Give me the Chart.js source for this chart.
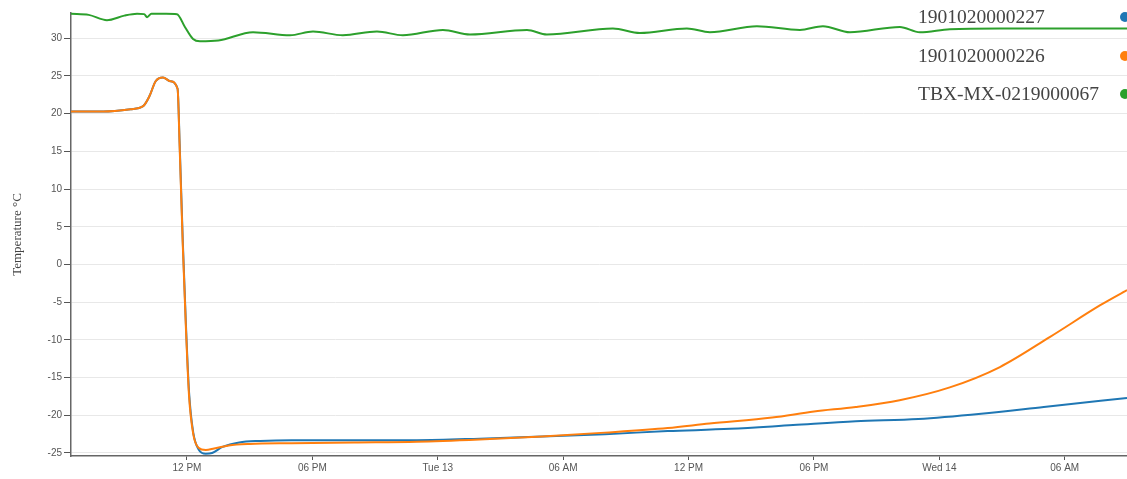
<!DOCTYPE html>
<html>
<head>
<meta charset="utf-8">
<script src="https://cdn.jsdelivr.net/npm/chart.js@4.4.0/dist/chart.umd.min.js"></script>
<style>
  html, body { margin: 0; padding: 0; background: #fff; overflow: hidden; }
  .chart-wrap { position: relative; width: 1127px; height: 479px; }
  .graph-legend { position: absolute; left: 918px; top: 3px; margin: 0; padding: 0; list-style: none; }
  .graph-legend li { position: relative; height: 38.5px; width: 209px; font-family: "Liberation Serif", "DejaVu Serif", serif; font-size: 19.5px; color: #444; line-height: 28px; }
  .graph-legend__swatch { position: absolute; left: 202px; top: 9px; width: 10px; height: 10px; border-radius: 50%; }
</style>
</head>
<body>
<div class="chart-wrap">
  <canvas id="myChart" width="1127" height="479"></canvas>
  <ul class="graph-legend" id="chartLegend"></ul>
</div>
<script>
  // hours counted from Mon 12, 00:00
  let seriesNames = ["1901020000227", "1901020000226", "TBX-MX-0219000067"];
  let seriesColors = ["#1f77b4", "#ff7f0e", "#2ca02c"];

  let blueHours = [6.45, 8.0, 9.3, 9.9, 10.2, 10.5, 10.85, 11.2, 11.55, 11.65, 11.8, 11.95, 12.1, 12.3, 12.55, 12.9, 13.2, 13.7, 14.5, 15.5, 17, 20, 23, 26, 29, 32, 35, 38, 41, 44, 47, 50, 53, 56.98];
  let blueTemps = [20.3, 20.3, 20.6, 21.0, 22.3, 24.3, 24.8, 24.3, 23.3, 16, 3, -8, -17, -22.3, -24.5, -25.1, -25.0, -24.2, -23.6, -23.4, -23.3, -23.3, -23.3, -23.1, -22.8, -22.5, -22.1, -21.8, -21.3, -20.8, -20.5, -19.8, -18.9, -17.7];

  let orangeHours = [6.45, 8.0, 9.3, 9.9, 10.2, 10.5, 10.85, 11.2, 11.55, 11.65, 11.8, 11.95, 12.1, 12.3, 12.55, 12.9, 13.3, 14, 15, 17, 20, 23, 26, 29, 32, 35, 37, 40, 42, 44, 46.1, 48.5, 50.9, 53.3, 55.7, 56.98];
  let orangeTemps = [20.3, 20.3, 20.6, 21.0, 22.3, 24.3, 24.8, 24.3, 23.3, 15.5, 2.5, -8.5, -17.5, -22.5, -24.3, -24.6, -24.4, -24.0, -23.8, -23.7, -23.6, -23.5, -23.2, -22.8, -22.3, -21.7, -21.1, -20.3, -19.5, -18.9, -18.0, -16.3, -13.6, -9.6, -5.4, -3.4];

  let greenHours = [6.45, 7.3, 8.17, 9.0, 9.61, 9.95, 10.09, 10.3, 11.0, 11.52, 11.9, 12.29, 12.62, 13.5, 15.16, 16.93, 18.03, 19.46, 21.09, 22.33, 24.25, 25.54, 28.27, 29.22, 32.38, 33.67, 35.92, 37.02, 39.27, 41.33, 42.43, 43.72, 46.11, 47.07, 48.5, 50.9, 54, 57];
  let greenTemps = [33.25, 33.1, 32.4, 33.0, 33.25, 33.2, 32.8, 33.25, 33.25, 33.2, 31.5, 29.9, 29.6, 29.7, 30.8, 30.4, 30.9, 30.4, 30.9, 30.4, 31.1, 30.5, 31.1, 30.5, 31.3, 30.7, 31.3, 30.8, 31.6, 31.1, 31.6, 30.8, 31.5, 30.8, 31.2, 31.3, 31.3, 31.3];

  let xTickHours = [12, 18, 24, 30, 36, 42, 48, 54];
  let xTickLabels = ["12 PM", "06 PM", "Tue 13", "06 AM", "12 PM", "06 PM", "Wed 14", "06 AM"];
  let yTickValues = [-25, -20, -15, -10, -5, 0, 5, 10, 15, 20, 25, 30];

  function toPoints(hours, temps) {
    return hours.map(function (h, i) {
      return { x: h, y: temps[i] };
    });
  }

  let allSeries = [
    toPoints(blueHours, blueTemps),
    toPoints(orangeHours, orangeTemps),
    toPoints(greenHours, greenTemps),
  ];
  // orange sits on top of blue in the original
  let drawOrder = [2, 1, 0];

  let datasets = allSeries.map(function (pts, i) {
    return {
      label: seriesNames[i],
      data: pts,
      order: drawOrder[i],
      borderColor: seriesColors[i],
      backgroundColor: seriesColors[i],
      borderWidth: 2,
      pointRadius: 0,
      fill: false,
      clip: 2,
      cubicInterpolationMode: "monotone",
    };
  });

  let tickFont = { family: "Liberation Sans, Arial, sans-serif", size: 10 };

  var ctx = document.getElementById("myChart").getContext("2d");
  let myChart = new Chart(ctx, {
    type: "line",
    data: { datasets: datasets },
    options: {
      responsive: false,
      animation: false,
      layout: { padding: { top: 13, right: 0, left: 0, bottom: 0 } },
      plugins: { legend: { display: false }, tooltip: { enabled: false } },
      scales: {
        x: {
          type: "linear",
          min: 6.45,
          max: 56.98,
          afterBuildTicks: function (scale) {
            scale.ticks = xTickHours.map(function (v) { return { value: v }; });
          },
          afterFit: function (scale) { scale.height = 23; },
          ticks: {
            autoSkip: false,
            maxRotation: 0,
            padding: 2,
            color: "#555",
            font: tickFont,
            callback: function (v) {
              let idx = xTickHours.indexOf(v);
              return idx >= 0 ? xTickLabels[idx] : "";
            },
          },
          grid: { drawOnChartArea: false, tickLength: 4, color: "#555" },
          border: { color: "#666", width: 1.5 },
        },
        y: {
          min: -25.4,
          max: 33.35,
          afterBuildTicks: function (scale) {
            scale.ticks = yTickValues.map(function (v) { return { value: v }; });
          },
          afterFit: function (scale) { scale.width = 71; },
          ticks: { padding: 2, color: "#555", font: tickFont },
          grid: { color: "#e8e8e8", tickColor: "#555", tickLength: 7 },
          border: { color: "#666", width: 1.5 },
          title: {
            display: true,
            text: "Temperature °C",
            color: "#444",
            font: { family: "Liberation Serif, DejaVu Serif, serif", size: 13 },
            padding: { top: 10, bottom: 0 },
          },
        },
      },
    },
  });

  // html legend, top right
  let text = [];
  for (var i = 0; i < seriesNames.length; i++) {
    text.push(
      '<li><span class="graph-legend__label">' + seriesNames[i] +
      '</span><span class="graph-legend__swatch" style="background-color:' +
      seriesColors[i] + '"></span></li>'
    );
  }
  document.getElementById("chartLegend").innerHTML = text.join("");
</script>
</body>
</html>
